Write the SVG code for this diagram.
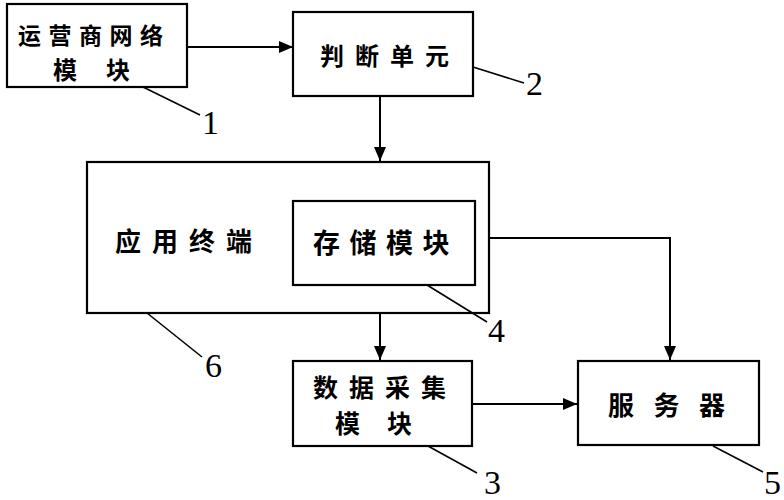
<svg xmlns="http://www.w3.org/2000/svg" width="784" height="500" viewBox="0 0 784 500">
<style>
.box{fill:#fff;stroke:#000;stroke-width:2.2}
.t{font-family:"Noto Sans CJK SC","Noto Sans",sans-serif;font-size:25px;fill:#000;dominant-baseline:central;font-weight:700}
.n{font-family:"Liberation Serif",serif;font-size:34px;fill:#000}
.ln{stroke:#000;stroke-width:2;fill:none}
.ld{stroke:#000;stroke-width:1.6;fill:none}
</style>
<defs>
<marker id="ah" viewBox="0 0 14 12" refX="14" refY="6" markerWidth="14" markerHeight="12" markerUnits="userSpaceOnUse" orient="auto">
<path d="M0,0 L14,6 L0,12 Z" fill="#000"/>
</marker>
</defs>
<g id="node1">
<rect class="box" x="7" y="4" width="180" height="83"/>
<text class="t" x="18" y="34" style="font-size:23px;letter-spacing:7.5px">运营商网络</text>
<text class="t" x="53" y="68" style="font-size:24px;letter-spacing:29px">模块</text>
</g>
<g id="node2">
<rect class="box" x="293" y="12" width="180" height="84"/>
<text class="t" x="320" y="54" style="font-size:24px;letter-spacing:11px">判断单元</text>
</g>
<g id="node6">
<rect class="box" x="87" y="162" width="402" height="151"/>
<text class="t" x="115" y="239" style="font-size:26px;letter-spacing:11px">应用终端</text>
</g>
<g id="node4">
<rect class="box" x="293" y="201" width="182" height="84"/>
<text class="t" x="313" y="241" style="font-size:27px;letter-spacing:9.5px">存储模块</text>
</g>
<g id="node3">
<rect class="box" x="293" y="361" width="179" height="85"/>
<text class="t" x="313" y="386" style="font-size:25px;letter-spacing:11px">数据采集</text>
<text class="t" x="335" y="422" style="font-size:25px;letter-spacing:27px">模块</text>
</g>
<g id="node5">
<rect class="box" x="578" y="361" width="181" height="84"/>
<text class="t" x="608" y="403" style="font-size:26px;letter-spacing:19.5px">服务器</text>
</g>
<g id="connectors">
<line class="ln" x1="187" y1="47" x2="293" y2="47" marker-end="url(#ah)"/>
<line class="ln" x1="380" y1="96" x2="380" y2="161" marker-end="url(#ah)"/>
<line class="ln" x1="380" y1="313" x2="380" y2="360" marker-end="url(#ah)"/>
<line class="ln" x1="472" y1="404" x2="577" y2="404" marker-end="url(#ah)"/>
<polyline class="ln" points="489,238 670,238 670,360" marker-end="url(#ah)"/>
</g>
<g id="leaders">
<line class="ld" x1="143" y1="87" x2="200" y2="115"/>
<line class="ld" x1="473" y1="67" x2="524" y2="83"/>
<line class="ld" x1="427" y1="285" x2="487" y2="322"/>
<line class="ld" x1="147" y1="313" x2="202" y2="357"/>
<line class="ld" x1="428" y1="446" x2="477" y2="473"/>
<line class="ld" x1="713" y1="446" x2="763" y2="472"/>
<text class="n" x="202" y="134">1</text>
<text class="n" x="526" y="95">2</text>
<text class="n" x="484" y="494">3</text>
<text class="n" x="488" y="342">4</text>
<text class="n" x="764" y="494">5</text>
<text class="n" x="205" y="377">6</text>
</g>
</svg>
